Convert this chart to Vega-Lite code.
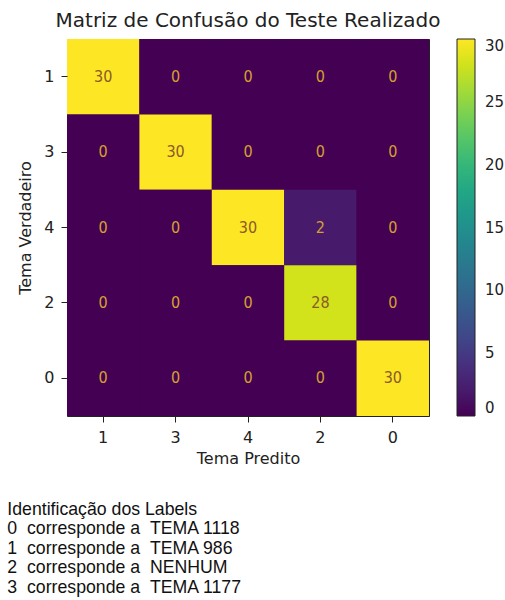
{
  "$schema": "https://vega.github.io/schema/vega-lite/v6.json",
  "padding": {"left": 7, "top": 10, "right": 0, "bottom": 5},
  "background": "white",
  "config": {"font": "DejaVu Sans", "view": {"stroke": null}},
  "title": {
    "text": ["Identificação dos Labels", "0 \u00a0corresponde a \u00a0TEMA 1118", "1 \u00a0corresponde a \u00a0TEMA 986", "2 \u00a0corresponde a \u00a0NENHUM", "3 \u00a0corresponde a \u00a0TEMA 1177"],
    "orient": "bottom",
    "anchor": "start",
    "frame": "bounds",
    "dx": -10,
    "offset": 34,
    "font": "Liberation Sans",
    "fontSize": 17.7,
    "fontWeight": "normal",
    "lineHeight": 19.5,
    "color": "#111111"
  },
  "resolve": {"legend": {"color": "independent"}},
  "vconcat": [
    {
      "title": {"text": "Matriz de Confusão do Teste Realizado", "fontSize": 20, "fontWeight": "normal", "color": "#222222", "offset": 8},
      "width": 362,
      "height": 377,
      "view": {"stroke": "#222222", "strokeWidth": 1, "fill": "#440154"},
      "data": {"values": [
        {"true": "1", "pred": "1", "count": 30}, {"true": "1", "pred": "3", "count": 0}, {"true": "1", "pred": "4", "count": 0}, {"true": "1", "pred": "2", "count": 0}, {"true": "1", "pred": "0", "count": 0},
        {"true": "3", "pred": "1", "count": 0}, {"true": "3", "pred": "3", "count": 30}, {"true": "3", "pred": "4", "count": 0}, {"true": "3", "pred": "2", "count": 0}, {"true": "3", "pred": "0", "count": 0},
        {"true": "4", "pred": "1", "count": 0}, {"true": "4", "pred": "3", "count": 0}, {"true": "4", "pred": "4", "count": 30}, {"true": "4", "pred": "2", "count": 2}, {"true": "4", "pred": "0", "count": 0},
        {"true": "2", "pred": "1", "count": 0}, {"true": "2", "pred": "3", "count": 0}, {"true": "2", "pred": "4", "count": 0}, {"true": "2", "pred": "2", "count": 28}, {"true": "2", "pred": "0", "count": 0},
        {"true": "0", "pred": "1", "count": 0}, {"true": "0", "pred": "3", "count": 0}, {"true": "0", "pred": "4", "count": 0}, {"true": "0", "pred": "2", "count": 0}, {"true": "0", "pred": "0", "count": 30}
      ]},
      "encoding": {
        "x": {"field": "pred", "type": "ordinal", "sort": ["1", "3", "4", "2", "0"], "title": "Tema Predito",
          "scale": {"paddingInner": 0, "paddingOuter": 0},
          "axis": {"labelAngle": 0, "domain": false, "grid": false, "tickColor": "#222222", "tickSize": 6, "labelFontSize": 16, "titleFontSize": 16, "titleFontWeight": "normal", "labelColor": "#222222", "titleColor": "#222222", "labelPadding": 7, "titlePadding": 5}},
        "y": {"field": "true", "type": "ordinal", "sort": ["1", "3", "4", "2", "0"], "title": "Tema Verdadeiro",
          "scale": {"paddingInner": 0, "paddingOuter": 0},
          "axis": {"domain": false, "grid": false, "tickColor": "#222222", "tickSize": 6, "labelFontSize": 16, "titleFontSize": 16, "titleFontWeight": "normal", "labelColor": "#222222", "titleColor": "#222222", "labelPadding": 7, "titlePadding": 10}}
      },
      "layer": [
        {"mark": {"type": "rect"},
         "encoding": {
           "color": {"field": "count", "type": "quantitative", "scale": {"scheme": "viridis", "domain": [0, 30]},
             "legend": {"title": null, "direction": "vertical", "gradientLength": 377, "gradientThickness": 18, "values": [0, 5, 10, 15, 20, 25, 30], "labelFontSize": 15, "labelOffset": 10, "labelBaseline": "middle", "gradientStrokeColor": "#222222", "gradientStrokeWidth": 1, "offset": 28, "labelColor": "#222222"}}}},
        {"mark": {"type": "text", "fontSize": 16, "font": "DejaVu Sans Condensed"},
         "encoding": {"text": {"field": "count", "type": "quantitative"},
           "color": {"condition": {"test": "datum.count > 15", "value": "#8a5a28"}, "value": "#d4a030"}}}
      ]
    }
  ]
}
